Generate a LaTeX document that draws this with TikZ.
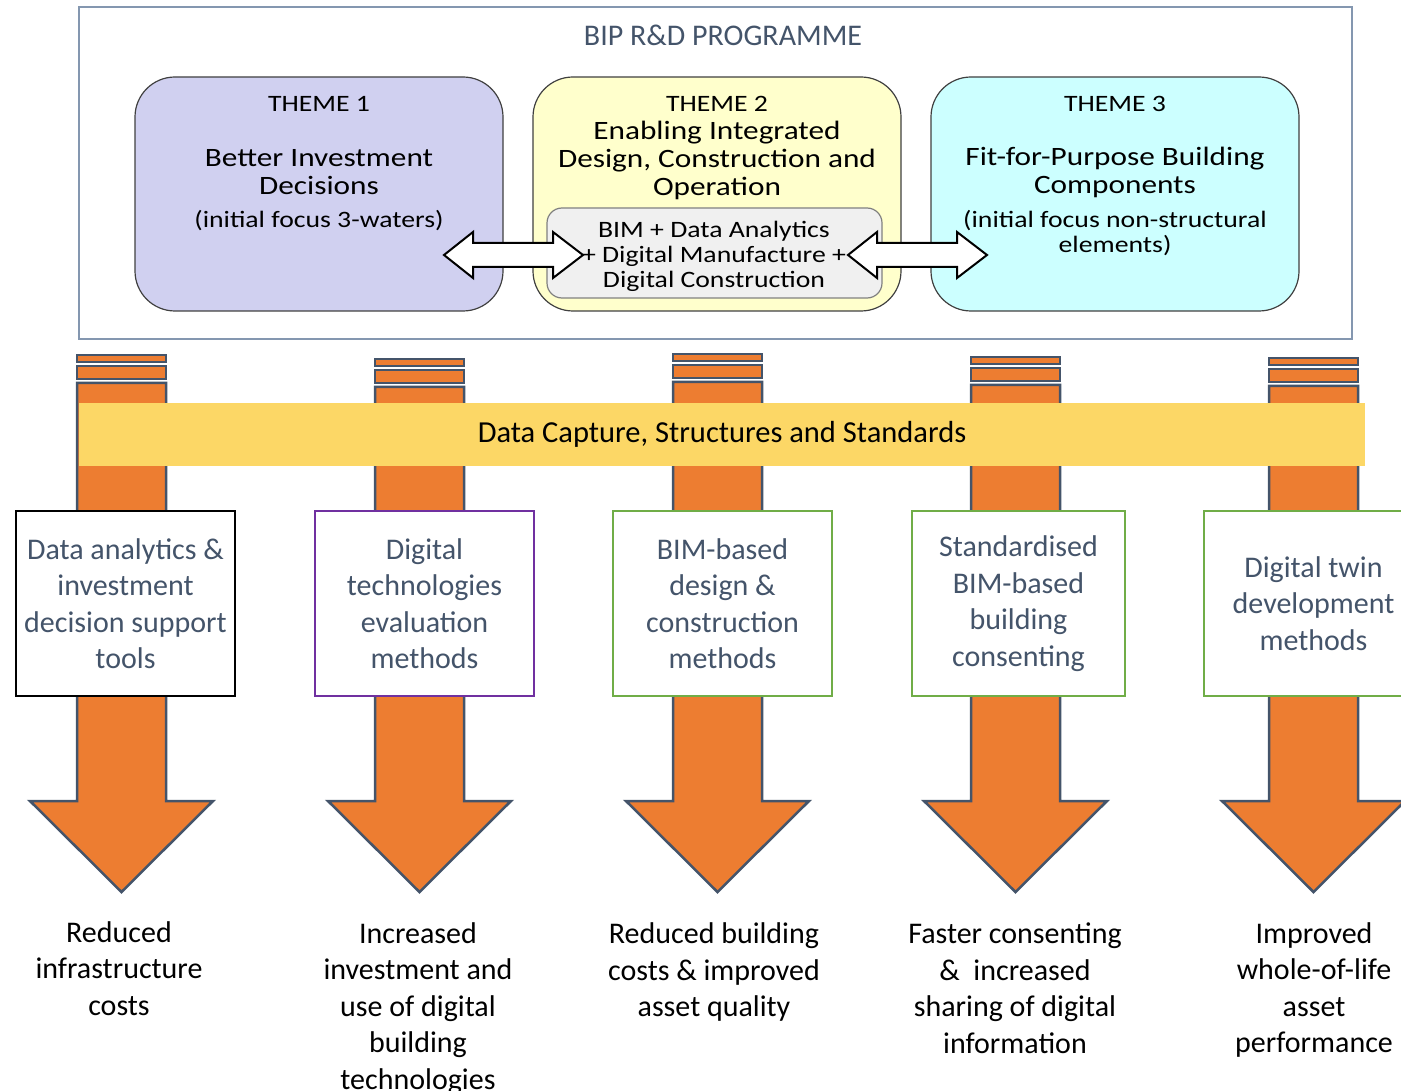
\documentclass[tikz,border=0pt]{standalone}
\usepackage{fontspec}
\setmainfont{Carlito}
\newfontfamily\widefont[FakeStretch=1.18]{Carlito}
\definecolor{slate}{HTML}{44546A}
\definecolor{arrorange}{HTML}{ED7D31}
\definecolor{progline}{HTML}{8497B0}
\definecolor{themeline}{HTML}{404040}
\definecolor{lavender}{HTML}{D0D0F0}
\definecolor{paleyellow}{HTML}{FFFFCC}
\definecolor{palecyan}{HTML}{CCFFFF}
\definecolor{coregray}{HTML}{F0F0F0}
\definecolor{bandyellow}{HTML}{FCD766}
\definecolor{goalgreen}{HTML}{70AD47}
\definecolor{goalpurple}{HTML}{7030A0}

\begin{document}
\begin{tikzpicture}[x=1pt,y=-1pt,
    theme/.style={draw=themeline,line width=1.2pt,rounded corners=40pt},
    small/.style={font=\widefont\fontsize{23.5}{25}\selectfont,align=center,inner sep=0pt},
    big/.style={font=\widefont\fontsize{26.5}{28}\selectfont,align=center,inner sep=0pt},
    twoway/.style={draw=black,line width=2pt,fill=white,line join=miter},
    bar/.style={draw=slate,line width=2.5pt,fill=arrorange,line join=miter},
    goal/.style={draw,line width=1.2pt,fill=white,minimum width=219pt,minimum height=185pt,
        inner sep=0pt,text=slate,align=center,font=\fontsize{30}{36.5}\selectfont},
    outcome/.style={align=center,inner sep=0pt,font=\fontsize{30}{36.5}\selectfont}]
    \useasboundingbox (0,0) rectangle (1401,1091);

    \draw[progline,line width=1.5pt] (79,7) rectangle (1352,339);
    \node[text=slate,font=\fontsize{30}{36}\selectfont] (title) at (723,35) {BIP R\&D PROGRAMME};

    \filldraw[theme,fill=lavender] (135,77) rectangle (503,311) coordinate (theme1);
    \filldraw[theme,fill=paleyellow] (533,77) rectangle (901,311) coordinate (theme2);
    \filldraw[theme,fill=palecyan] (931,77) rectangle (1299,311) coordinate (theme3);
    \filldraw[draw=gray,line width=1.2pt,fill=coregray,rounded corners=15pt] (547,208) rectangle (882,298);

    \node[small] (t1) at (319,104) {THEME 1};
    \node[big] (t1a) at (319,172) {Better Investment\\Decisions};
    \node[small] (t1b) at (319,221) {(initial focus 3-waters)};
    \node[small] (t2) at (717,104) {THEME 2};
    \node[big] (t2a) at (717,160.5) {Enabling Integrated\\Design, Construction and\\Operation};
    \node[small] (core) at (714,256) {BIM + Data Analytics\\+ Digital Manufacture +\\Digital Construction};
    \node[small] (t3) at (1115,104) {THEME 3};
    \node[big] (t3a) at (1115,172) {Fit-for-Purpose Building\\Components};
    \node[small] (t3b) at (1115,233.5) {(initial focus non-structural\\elements)};

    \draw[twoway] (444,255) --++(29,-23) --++(0,11) --++(80,0) --++(0,-11) --++(30,23)
        --++(-30,23) --++(0,-11) --++(-80,0) --++(0,11) -- cycle;
    \draw[twoway] (848,255) --++(29,-23) --++(0,11) --++(80,0) --++(0,-11) --++(30,23)
        --++(-30,23) --++(0,-11) --++(-80,0) --++(0,11) -- cycle;

    \foreach \x/\t in {121.5/383,419.5/387,717.5/382,1015.5/385,1313.5/386}{
        \draw[bar] (\x-44.5,\t-28) rectangle ++(89,7);
        \draw[bar] (\x-44.5,\t-17) rectangle ++(89,13);
        \draw[bar] (\x-44.5,\t) --++(89,0) -- (\x+44.5,801) --++(47,0) -- (\x,892)
            -- (\x-91.5,801) --++(47,0) -- cycle;
    }

    \node[fill=bandyellow,minimum width=1286pt,minimum height=63pt,inner sep=0pt,
        font=\fontsize{30.5}{36}\selectfont] (band) at (722,434.5) {Data Capture, Structures and Standards};

    \node[goal,draw=black] (tools) at (125.5,603.5) {Data analytics \&\\investment\\decision support\\tools};
    \node[goal,draw=goalpurple] (evals) at (424.5,603.5) {Digital\\technologies\\evaluation\\methods};
    \node[goal,draw=goalgreen] (bimdc) at (722.5,603.5) {BIM-based\\design \&\\construction\\methods};
    \node[goal,draw=goalgreen,minimum width=213pt] (consent) at (1018.5,603.5) {Standardised\\BIM-based\\building\\consenting};
    \node[goal,draw=goalgreen] (twin) at (1313.5,603.5) {Digital twin\\development\\methods};

    \node[outcome] (out1) at (119,968.5) {Reduced\\infrastructure\\costs};
    \node[outcome] (out2) at (418,1008.5) {Increased\\investment and\\use of digital\\building\\technologies};
    \node[outcome] (out3) at (714,972) {Reduced building\\costs \& improved\\asset quality};
    \node[outcome] (out4) at (1015,988) {Faster consenting\\\&~ increased\\sharing of digital\\information};
    \node[outcome] (out5) at (1314,990) {Improved\\whole-of-life\\asset\\performance};
\end{tikzpicture}
\end{document}
